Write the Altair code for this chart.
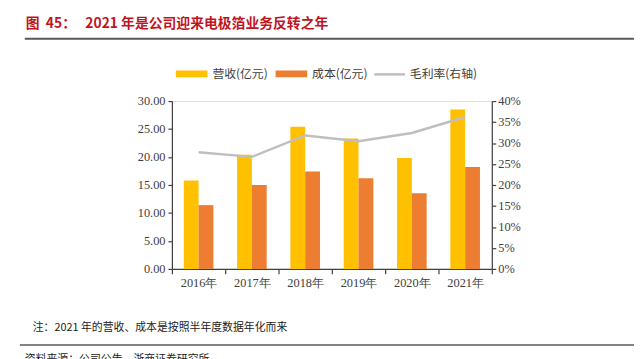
import altair as alt
import pandas as pd

years = ["2016年", "2017年", "2018年", "2019年", "2020年", "2021年"]
revenue = [15.8, 20.4, 25.4, 23.3, 19.8, 28.5]
cost = [11.4, 15.0, 17.4, 16.2, 13.5, 18.2]
margin = [0.278, 0.267, 0.318, 0.304, 0.324, 0.362]
series = ["营收(亿元)", "成本(亿元)"]
line_name = "毛利率(右轴)"
colors = ["#FFC000", "#ED7D31"]
line_color = "#BFBFBF"
left_ticks = [0, 5, 10, 15, 20, 25, 30]
right_ticks = [0, 0.05, 0.10, 0.15, 0.20, 0.25, 0.30, 0.35, 0.40]

title_text = "图\u00a0\u00a045：\u00a0\u00a0\u00a02021 年是公司迎来电极箔业务反转之年"
note_text = "注：2021 年的营收、成本是按照半年度数据年化而来"
source_text = "资料来源：公司公告，浙商证券研究所"

bars_df = pd.DataFrame({
    "year": years * 2,
    "series": [series[0]] * len(years) + [series[1]] * len(years),
    "value": revenue + cost,
})
line_df = pd.DataFrame({"year": years, "margin": margin})

serif = "Liberation Serif"
cjk = "Noto Sans CJK SC"
axis_col = "#404040"
W, H = 324, 170

x_enc = alt.X(
    "year:N", sort=years,
    scale=alt.Scale(paddingInner=0, paddingOuter=0),
    axis=alt.Axis(title=None, labelFont=serif, labelFontSize=12.5, labelColor=axis_col,
                  labelAngle=0, domainColor=axis_col, tickColor=axis_col, tickSize=5,
                  tickBand="extent", labelPadding=3, domainWidth=1.2, tickWidth=1.2),
)

bars = alt.Chart(bars_df).mark_bar().encode(
    x=x_enc,
    xOffset=alt.XOffset("series:N", sort=series,
                        scale=alt.Scale(paddingInner=0, paddingOuter=0.8)),
    y=alt.Y("value:Q", scale=alt.Scale(domain=[0, 30]),
            axis=alt.Axis(title=None, values=left_ticks, format=".2f", labelFont=serif,
                          labelFontSize=12.5, labelColor=axis_col, domainColor=axis_col,
                          tickColor=axis_col, tickSize=4, labelPadding=3,
                          domainWidth=1.2, tickWidth=1.2, grid=False)),
    color=alt.Color("series:N", scale=alt.Scale(domain=series, range=colors), legend=None),
)

line = alt.Chart(line_df).mark_line(color=line_color, strokeWidth=2.5).encode(
    x=alt.X("year:N", sort=years),
    y=alt.Y("margin:Q", scale=alt.Scale(domain=[0, 0.4]),
            axis=alt.Axis(title=None, orient="right", values=right_ticks, format=".0%",
                          labelFont=serif, labelFontSize=12.5, labelColor=axis_col,
                          domainColor=axis_col, tickColor=axis_col, tickSize=4,
                          labelPadding=2, domainWidth=1.2, tickWidth=1.2, grid=False)),
)

one = pd.DataFrame({"k": [0]})


def txt(text, x, y, size, color, font, weight="normal"):
    return alt.Chart(one).mark_text(text=text, align="left", baseline="middle",
                                    fontSize=size, color=color, font=font,
                                    fontWeight=weight).encode(
        x=alt.value(x), y=alt.value(y))


def rect(x1, x2, y1, y2, color):
    return alt.Chart(one).mark_rect(color=color).encode(
        x=alt.value(x1), x2=alt.value(x2), y=alt.value(y1), y2=alt.value(y2))


def rule(x1, x2, y, color, width):
    return alt.Chart(one).mark_rule(color=color, strokeWidth=width).encode(
        x=alt.value(x1), x2=alt.value(x2), y=alt.value(y))


annotations = [
    txt(title_text, -148, -78, 14, "#C0141E", cjk, "bold"),
    rule(-149, 470, -63, "#595959", 2),
    rect(4, 36, -31, -24, colors[0]),
    txt(series[0], 41, -27, 12, axis_col, cjk),
    rect(105, 137, -31, -24, colors[1]),
    txt(series[1], 142, -27, 12, axis_col, cjk),
    rule(205, 236, -27, line_color, 2.5),
    txt(line_name, 241, -27, 12, axis_col, cjk),
    txt(note_text, -141, 230, 11, "#222222", cjk),
    rule(-154, 470, 247, "#595959", 1.5),
    txt(source_text, -149, 262, 11, "#222222", cjk),
]

chart = alt.layer(bars, line, *annotations).resolve_scale(y="independent").properties(
    width=W, height=H,
    autosize=alt.AutoSizeParams(type="none"),
    padding={"left": 166, "top": 92, "right": 144, "bottom": 89},
).configure_view(stroke=None).configure(background="white")

chart.save("out.html", embed_options={"renderer": "svg", "actions": False})
